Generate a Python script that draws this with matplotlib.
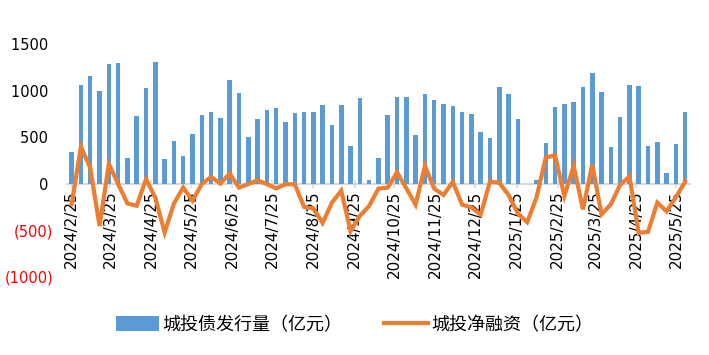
import matplotlib
matplotlib.use("Agg")
import matplotlib.pyplot as plt
import numpy as np
import pandas as pd

plt.rcParams['font.family'] = ['DejaVu Sans', 'Noto Sans CJK SC']

start_date = "2024-02-25"
n_weeks = 67
dates = pd.date_range(start_date, periods=n_weeks, freq="7D")

issuance = [344, 1057, 1154, 1000, 1290, 1301, 280, 731, 1032, 1312,
            262, 457, 292, 538, 733, 774, 710, 1118, 978, 505,
            699, 786, 808, 659, 755, 765, 765, 840, 634, 840,
            409, 923, 36, 280, 742, 933, 933, 525, 968, 903,
            860, 839, 774, 753, 558, 491, 1043, 966, 697, 0,
            43, 439, 824, 858, 882, 1043, 1191, 989, 394, 717,
            1062, 1054, 405, 452, 116, 428, 772]

net_financing = [-220, 396, 168, -455, 212, -5, -213, -238, 48, -150,
                 -525, -215, -42, -185, -5, 72, 0, 108, -43, -5,
                 36, -5, -52, -7, -7, -250, -268, -423, -204, -76,
                 -510, -348, -240, -54, -43, 122, -50, -226, 190, -54,
                 -122, 18, -226, -255, -333, 22, 9, -122, -321, -415,
                 -150, 280, 305, -133, 190, -276, 204, -330, -222, -14,
                 77, -530, -518, -204, -298, -146, 22]

tick_dates = pd.date_range("2024-02-01", "2025-05-01", freq="MS") + pd.Timedelta(days=24)
tick_labels = [f"{d.year}/{d.month}/{d.day}" for d in tick_dates]

y_ticks = [-1000, -500, 0, 500, 1000, 1500]
y_labels = ["(1000)", "(500)", "0 ", "500 ", "1000 ", "1500 "]

series_names = ["城投债发行量（亿元）", "城投净融资（亿元）"]

fig = plt.figure(figsize=(7.09, 3.55), dpi=100)
ax = fig.add_axes([0.0945, 0.2206, 0.8785, 0.6554])

bars = ax.bar(dates, issuance, width=3.4, color="#5B9BD5", label=series_names[0], zorder=2)
line, = ax.plot(dates, net_financing, color="#ED7D31", lw=3, label=series_names[1],
                zorder=3, solid_joinstyle="miter")

ax.set_xlim(dates[0] - pd.Timedelta(days=3.5), dates[-1] + pd.Timedelta(days=3.5))
ax.set_ylim(-1000, 1500)

for s in ["top", "right", "left"]:
    ax.spines[s].set_visible(False)
ax.spines["bottom"].set_position(("data", 0))
ax.spines["bottom"].set_color("#D9D9D9")
ax.spines["bottom"].set_linewidth(1.5)
ax.spines["bottom"].set_zorder(1)

ax.set_xticks(tick_dates)
ax.set_xticklabels(tick_labels, rotation=90, fontsize=11)
ax.tick_params(axis="x", direction="inout", length=6, width=1.2, color="#D9D9D9", pad=2)

ax.set_yticks(y_ticks)
ax.set_yticklabels(y_labels, fontsize=10.5)
ax.tick_params(axis="y", length=0, pad=10)
for lab, v in zip(ax.get_yticklabels(), y_ticks):
    lab.set_color("red" if v < 0 else "black")

leg = fig.legend(handles=[bars, line], labels=series_names, loc="center",
                 bbox_to_anchor=(0.5, 0.085), ncol=2, frameon=False,
                 prop={"family": "Noto Sans CJK SC", "size": 13},
                 handlelength=2.4, handleheight=0.85, columnspacing=2.3, handletextpad=0.2)

fig.savefig("out.png", dpi=100)
